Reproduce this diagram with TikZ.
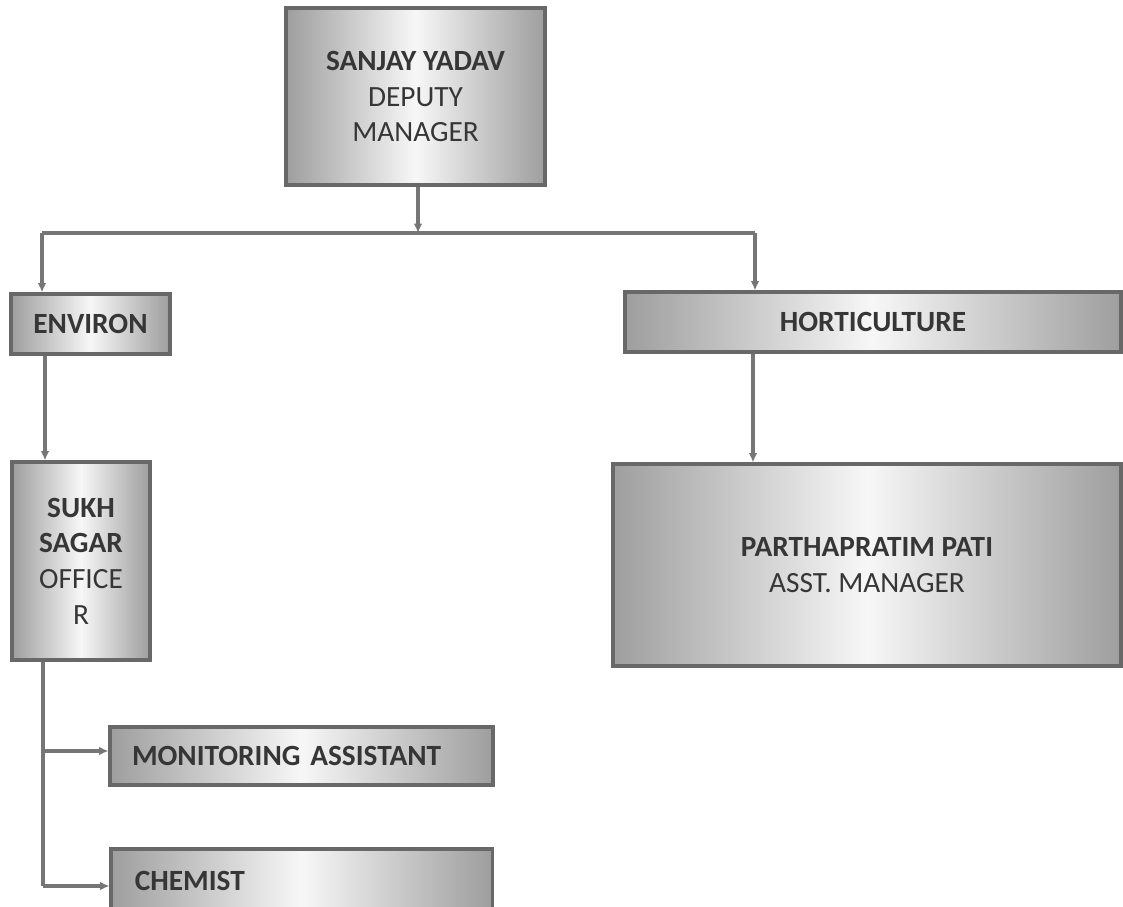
\documentclass[tikz,border=0pt]{standalone}
\usepackage{fontspec}
\setmainfont{Carlito}
\usetikzlibrary{arrows.meta}
\definecolor{bordergray}{HTML}{686868}
\definecolor{linegray}{HTML}{767676}
\definecolor{edgegray}{HTML}{9E9E9E}
\definecolor{centergray}{HTML}{F7F7F7}
\definecolor{txtgray}{HTML}{363636}
\tikzset{
  orgbox/.style={draw=bordergray, line width=2.3pt, rectangle, inner sep=0pt,
    left color=edgegray, right color=edgegray, middle color=centergray,
    text=txtgray, align=center,
    font=\fontsize{22}{26.8}\selectfont},
  conn/.style={draw=linegray, line width=2.6pt},
  arr/.style={conn, -{Latex[length=7pt,width=6.5pt]}},
}
\begin{document}
\begin{tikzpicture}[x=0.75pt,y=-0.75pt]
\useasboundingbox[fill=white] (0,0) rectangle (1123,906);
% nodes
\node[orgbox, minimum width=194.25pt, minimum height=132.75pt] (sanjay) at (415.5,96.5)
  {\textbf{SANJAY YADAV}\\DEPUTY\\MANAGER};
\node[orgbox, minimum width=119.25pt, minimum height=45pt] (environ) at (90.5,324)
  {\textbf{ENVIRON}};
\node[orgbox, minimum width=372pt, minimum height=45pt] (horti) at (873,322)
  {\textbf{HORTICULTURE}};
\node[orgbox, minimum width=103.5pt, minimum height=148.5pt] (sukh) at (81,561)
  {\textbf{SUKH}\\\textbf{SAGAR}\\OFFICE\\R};
\node[orgbox, minimum width=381pt, minimum height=151.5pt] (partha) at (867,565)
  {\textbf{PARTHAPRATIM PATI}\\ASST. MANAGER};
\node[orgbox, minimum width=287.25pt, minimum height=43.5pt, text width=254.25pt,
  align=left, inner xsep=16.5pt] (monitor) at (301.5,756)
  {\textbf{MONITORING ASSISTANT}};
\node[orgbox, minimum width=285.75pt, minimum height=47.25pt, text width=250pt,
  align=left, inner xsep=17.9pt] (chemist) at (301.5,880.5)
  {\textbf{CHEMIST}};
% connectors
\coordinate (bus) at (418,233);
\coordinate (busL) at (42,233);
\coordinate (busR) at (755,233);
\draw[arr] (sanjay.south -| bus) -- (bus);
\draw[conn] (busL) -- (busR);
\draw[arr] (busL) -- (busL |- environ.north);
\draw[arr] (busR) -- (busR |- horti.north);
\coordinate (envx) at (45,0);
\draw[arr] (envx |- environ.south) -- (envx |- sukh.north);
\coordinate (hx) at (753,0);
\draw[arr] (hx |- horti.south) -- (hx |- partha.north);
\coordinate (sx) at (43,0);
\coordinate (mj) at (43,751);
\coordinate (cj) at (43,886);
\draw[conn] (sx |- sukh.south) -- (cj);
\draw[arr] (mj) -- (mj -| monitor.west);
\draw[arr] (cj) -- (cj -| chemist.west);
\end{tikzpicture}
\end{document}
